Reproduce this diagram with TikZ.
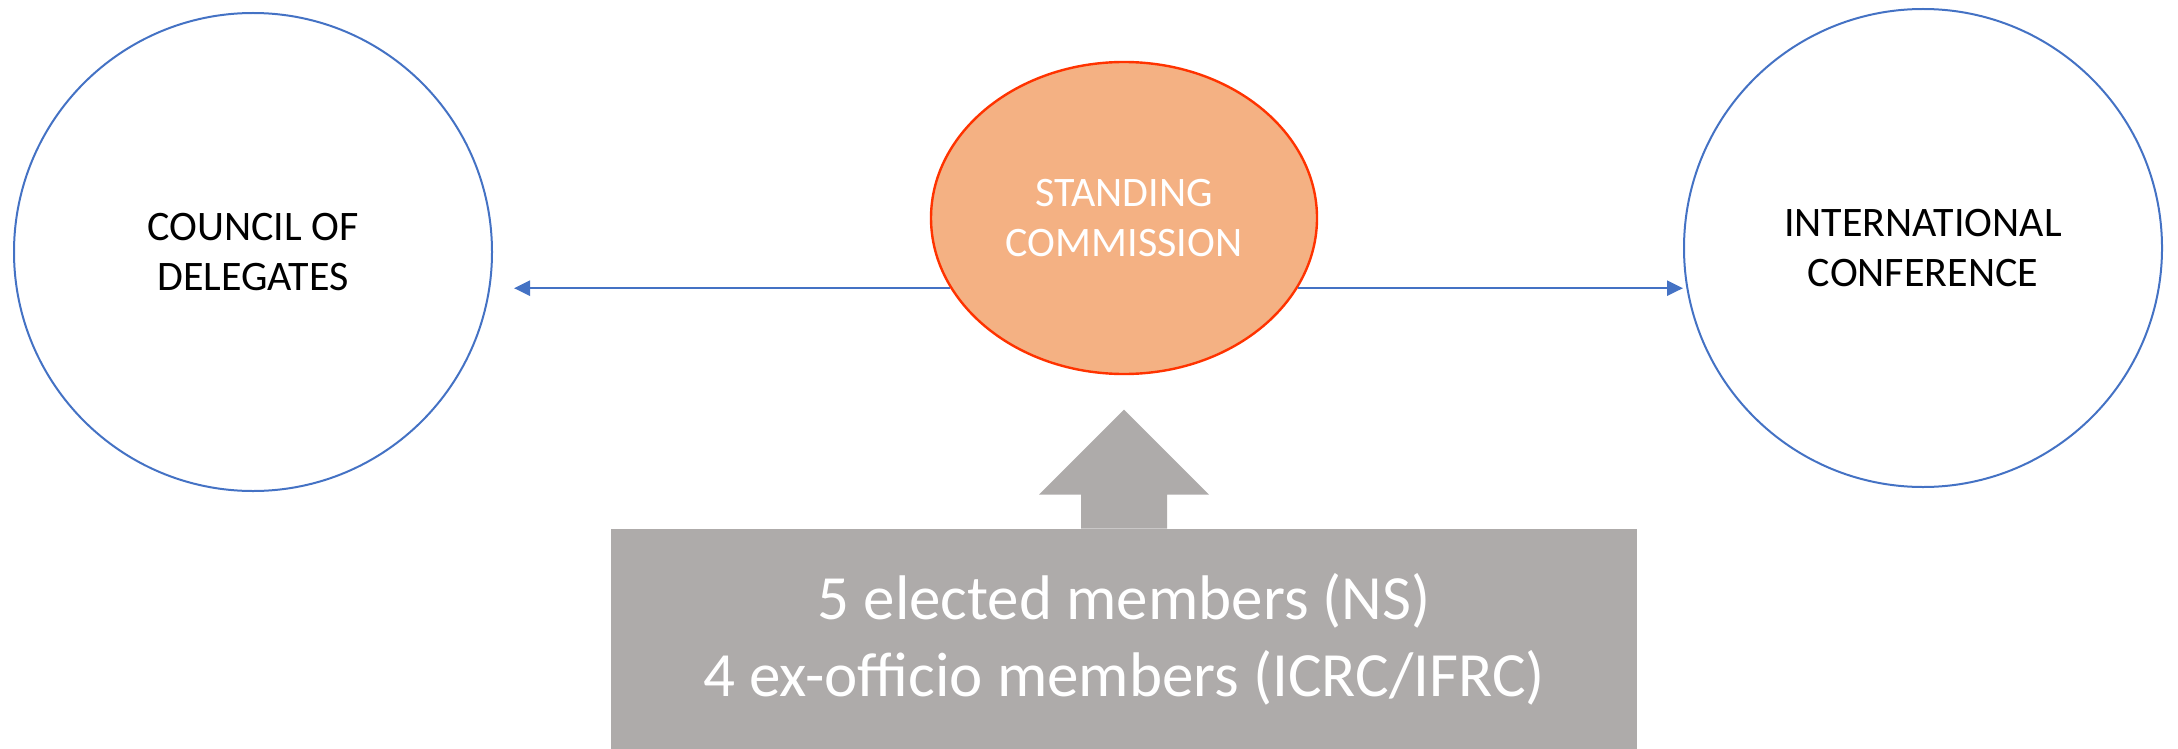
\documentclass[tikz,border=0pt]{standalone}
\usepackage{fontspec}
\setmainfont{Carlito}
\usetikzlibrary{shapes.geometric}
\usetikzlibrary{arrows.meta}

\definecolor{bodyblue}{HTML}{4472C4}
\definecolor{commfill}{HTML}{F4B183}
\definecolor{commline}{HTML}{FF3300}
\definecolor{membgray}{HTML}{AEABAA}

\tikzset{
  body/.style={circle,draw=bodyblue,line width=1pt,minimum size=239pt,inner sep=0pt,
    align=center,font=\fontsize{21pt}{25pt}\selectfont},
  comm/.style={ellipse,draw=commline,fill=commfill,line width=1.2pt,minimum width=193pt,
    minimum height=156pt,inner sep=0pt,align=center,text=white,font=\fontsize{21pt}{25pt}\selectfont},
  memb/.style={rectangle,fill=membgray,minimum width=513pt,minimum height=110pt,inner sep=0pt,
    align=center,text=white,font=\fontsize{31.5pt}{38.5pt}\selectfont},
  link/.style={draw=bodyblue,line width=1.2pt,-{Triangle[length=8pt,width=7.5pt]}}
}

\begin{document}
\begin{tikzpicture}[x=0.5pt,y=-0.5pt]
  \useasboundingbox (0,0) rectangle (2178,749);
  \node[body] (council) at (253,252) {COUNCIL OF\\DELEGATES};
  \node[body] (conference) at (1923,248) {INTERNATIONAL\\CONFERENCE};
  \node[comm] (commission) at (1124,218) {STANDING\\COMMISSION};
  \node[memb] (members) at (1124,639) {5 elected members (NS)\\4 ex-officio members (ICRC/IFRC)};
  % links to both bodies
  \path[link,shorten >=10.5pt] (commission.202) -- (commission.202 -| council.east);
  \path[link] (commission.338) -- (commission.338 -| conference.west);
  % block arrow up from the members
  \fill[membgray] (members.north) ++(-43,0) -- ++(0,-34) -- ++(-42,0) -- ++(85,-85)
    -- ++(85,85) -- ++(-42,0) -- ++(0,34) -- cycle;
\end{tikzpicture}
\end{document}
